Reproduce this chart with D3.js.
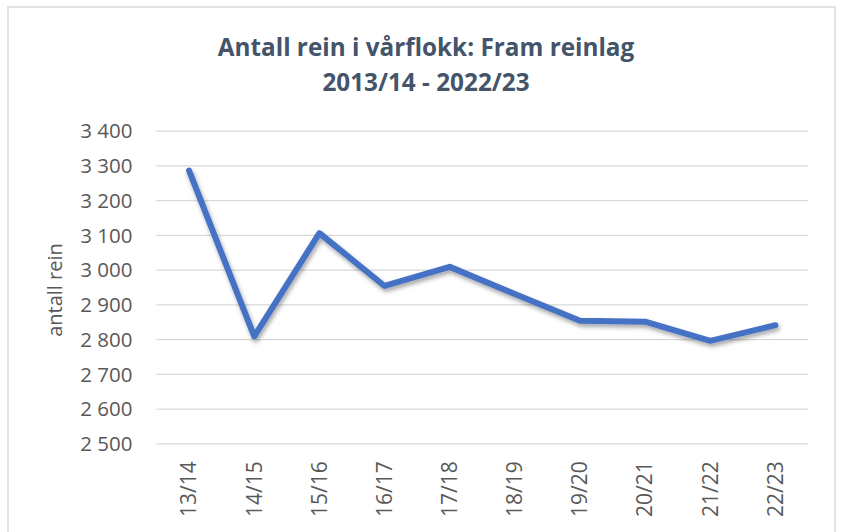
<!DOCTYPE html>
<html>
<head>
<meta charset="utf-8">
<script src="https://cdn.jsdelivr.net/npm/d3@7"></script>
<style>
  html, body { margin: 0; padding: 0; background: #ffffff; }
  svg { display: block; }
  text { font-family: "Open Sans", "Liberation Sans", sans-serif; }
</style>
</head>
<body>
<svg id="chart" width="844" height="532"></svg>
<script>
const categories = ["13/14","14/15","15/16","16/17","17/18","18/19","19/20","20/21","21/22","22/23"];
const values = [3285, 2808, 3105, 2953, 3008, 2930, 2853, 2850, 2795, 2840];
const yTicks = [2500, 2600, 2700, 2800, 2900, 3000, 3100, 3200, 3300, 3400];
const titleLines = ["Antall rein i vårflokk: Fram reinlag", "2013/14 - 2022/23"];
const yAxisTitle = "antall rein";

const W = 844, H = 532;
const margin = { left: 156.5, right: 36, top: 130.7, bottom: 88.7 };
const svg = d3.select("#chart");

// outer chart border
svg.append("rect")
  .attr("x", 8).attr("y", 7).attr("width", 827).attr("height", 540)
  .attr("fill", "#ffffff").attr("stroke", "#D9D9D9").attr("stroke-width", 1.5);

const x = d3.scaleBand().domain(categories).range([margin.left, W - margin.right]).paddingInner(0).paddingOuter(0);
const y = d3.scaleLinear().domain([2500, 3400]).range([H - margin.bottom, margin.top]);

const fmt = v => d3.format(",")(v).replace(/,/g, " ");

// gridlines
const yAxis = d3.axisLeft(y).tickValues(yTicks).tickSize(-(W - margin.right - margin.left)).tickPadding(24).tickFormat(fmt);
const gy = svg.append("g").attr("transform", `translate(${margin.left},0)`).call(yAxis);
gy.select(".domain").remove();
gy.selectAll(".tick line").attr("stroke", "#D9D9D9").attr("stroke-width", 1.3);
gy.selectAll(".tick text").attr("fill", "#595959").attr("font-size", "20.5px")
  .attr("font-family", "'Open Sans', 'Liberation Sans', sans-serif").attr("dy", "0.35em");

// x axis labels
const xAxis = d3.axisBottom(x).tickSize(0).tickPadding(0);
const gx = svg.append("g").attr("transform", `translate(0,${H - margin.bottom})`).call(xAxis);
gx.select(".domain").remove();
gx.selectAll(".tick text")
  .attr("fill", "#595959").attr("font-size", "21px")
  .attr("font-family", "'Open Sans', 'Liberation Sans', sans-serif")
  .attr("text-anchor", "end")
  .attr("transform", "rotate(-90)")
  .attr("x", -18).attr("y", 0).attr("dy", "0.35em");

// y axis title
svg.append("text")
  .attr("transform", `translate(55,${(y(2500) + y(3400)) / 2 + 3}) rotate(-90)`)
  .attr("text-anchor", "middle").attr("dy", "0.35em")
  .attr("fill", "#595959").attr("font-size", "20px")
  .text(yAxisTitle);

// shadow filter
const defs = svg.append("defs");
const f = defs.append("filter").attr("id", "shadow").attr("x", "-10%").attr("y", "-10%").attr("width", "120%").attr("height", "130%");
f.append("feDropShadow").attr("dx", 1.5).attr("dy", 3).attr("stdDeviation", 2.2)
  .attr("flood-color", "#000000").attr("flood-opacity", 0.35);

// line
const line = d3.line().x((d, i) => x(categories[i]) + x.bandwidth() / 2).y(d => y(d));
svg.append("path")
  .datum(values)
  .attr("d", line)
  .attr("fill", "none")
  .attr("stroke", "#4472C4")
  .attr("stroke-width", 6)
  .attr("stroke-linejoin", "round")
  .attr("stroke-linecap", "round")
  .attr("filter", "url(#shadow)");

// title
const title = svg.append("text")
  .attr("text-anchor", "middle")
  .attr("fill", "#44546A")
  .attr("font-weight", "bold")
  .attr("font-family", "'Liberation Sans Narrow', 'Open Sans', sans-serif")
  .attr("font-size", "24.3px");
title.selectAll("tspan").data(titleLines).join("tspan")
  .attr("x", 426).attr("y", (d, i) => 56 + i * 35)
  .text(d => d);
</script>
</body>
</html>
